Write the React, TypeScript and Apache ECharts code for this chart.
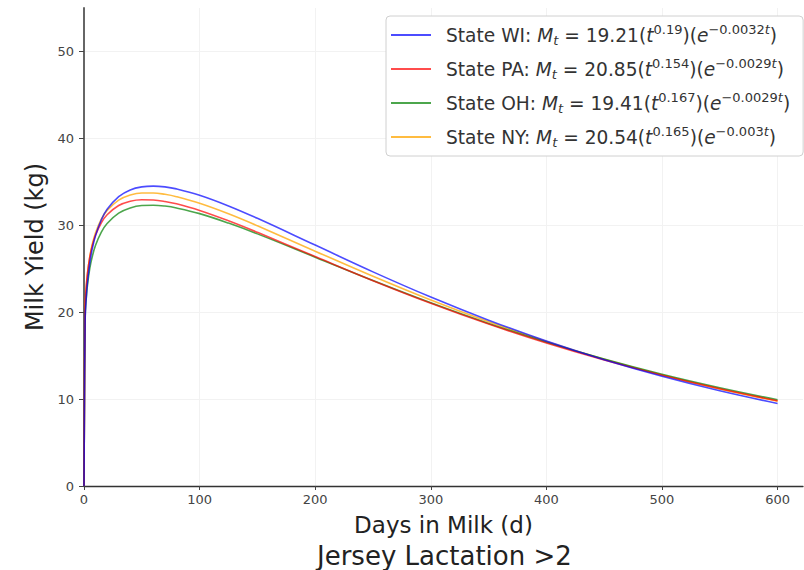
import React, { useEffect, useRef } from "react";
import * as echarts from "echarts";

const days = [0, 1, 2, 3, 5, 7, 10, 15, 20, 30, 40, 50, 60, 70, 80, 100, 125, 150, 200, 250, 300, 350, 400, 450, 500, 550, 600];
const wiValues = [0, 19.15, 21.77, 23.44, 25.67, 27.19, 28.81, 30.63, 31.84, 33.30, 34.07, 34.42, 34.51, 34.42, 34.19, 33.46, 32.23, 30.80, 27.72, 24.64, 21.74, 19.08, 16.67, 14.53, 12.63, 10.96, 9.50];
const paValues = [0, 20.79, 23.06, 24.48, 26.33, 27.57, 28.88, 30.29, 31.21, 32.27, 32.77, 32.94, 32.91, 32.74, 32.47, 31.71, 30.52, 29.19, 26.40, 23.63, 21.03, 18.63, 16.45, 14.49, 12.74, 11.18, 9.80];
const ohValues = [0, 19.36, 21.67, 23.12, 25.03, 26.32, 27.70, 29.21, 30.21, 31.40, 32.00, 32.27, 32.31, 32.21, 31.99, 31.34, 30.25, 29.01, 26.33, 23.64, 21.08, 18.71, 16.55, 14.60, 12.85, 11.30, 9.92];
const nyValues = [0, 20.48, 22.89, 24.40, 26.39, 27.73, 29.15, 30.70, 31.71, 32.90, 33.49, 33.72, 33.72, 33.56, 33.29, 32.53, 31.32, 29.94, 27.02, 24.13, 21.40, 18.90, 16.63, 14.59, 12.78, 11.17, 9.76];

const seriesNames = ["State WI", "State PA", "State OH", "State NY"];
const seriesColors = ["rgba(0,0,255,0.7)", "rgba(255,0,0,0.7)", "rgba(0,128,0,0.7)", "rgba(255,165,0,0.75)"];
const coefA = ["19.21", "20.85", "19.41", "20.54"];
const coefB = ["0.19", "0.154", "0.167", "0.165"];
const coefC = ["−0.0032", "−0.0029", "−0.0029", "−0.003"];

const xTicks = [0, 100, 200, 300, 400, 500, 600];
const yTicks = [0, 10, 20, 30, 40, 50];

const FONT = "DejaVu Sans";
const LF = 18.6;

export default function App() {
  const ref = useRef<HTMLDivElement>(null);
  useEffect(() => {
    if (!ref.current) return;
    const chart = echarts.init(ref.current, null, { renderer: "svg" });
    const allValues = [wiValues, paValues, ohValues, nyValues];
    const legendText: Record<string, string> = {};
    seriesNames.forEach((n, i) => {
      legendText[n] =
        `{sp| }{n|${n}: }{i|M}{sub|t}{n| = ${coefA[i]}(}{i|t}{sup|${coefB[i]}}{n|)(}{i|e}{sup|${coefC[i]}}{supi|t}{n|)}`;
    });
    chart.setOption({
      animation: false,
      backgroundColor: "#ffffff",
      textStyle: { fontFamily: FONT },
      title: {
        text: "Jersey Lactation >2",
        left: 317,
        top: 543,
        padding: 0,
        textStyle: { fontFamily: FONT, fontSize: 26, fontWeight: "normal", color: "#222" },
      },
      grid: { left: 84, right: 1, top: 8, bottom: 84 },
      legend: {
        orient: "vertical",
        left: 386,
        top: 16,
        padding: [7, 13, 7, 5],
        itemGap: 10,
        itemWidth: 40,
        itemHeight: 2,
        icon: "rect",
        backgroundColor: "#ffffff",
        borderColor: "#d0d0d0",
        borderWidth: 1,
        borderRadius: 4,
        data: seriesNames,
        formatter: (name: string) => legendText[name],
        textStyle: {
          fontFamily: FONT,
          fontSize: LF,
          color: "#333",
          rich: {
            sp: { width: 10, fontSize: LF, lineHeight: 24 },
            n: { fontFamily: FONT, fontSize: LF, lineHeight: 24, color: "#333" },
            i: { fontFamily: FONT, fontSize: LF, lineHeight: 24, fontStyle: "italic", color: "#333" },
            sub: { fontFamily: FONT, fontSize: 13, lineHeight: 12, fontStyle: "italic", verticalAlign: "bottom", color: "#333" },
            sup: { fontFamily: FONT, fontSize: 13, lineHeight: 12, verticalAlign: "top", color: "#333" },
            supi: { fontFamily: FONT, fontSize: 13, lineHeight: 12, fontStyle: "italic", verticalAlign: "top", color: "#333" },
          },
        },
      },
      xAxis: {
        type: "value",
        min: 0,
        max: 622,
        interval: 100,
        name: "Days in Milk (d)",
        nameLocation: "middle",
        nameGap: 27,
        nameTextStyle: { fontFamily: FONT, fontSize: 23, color: "#222" },
        axisLine: { lineStyle: { color: "#333", width: 1.3 } },
        axisTick: { show: true, length: 4, lineStyle: { color: "#444" }, customValues: xTicks },
        axisLabel: { fontFamily: FONT, fontSize: 13, color: "#444", margin: 7, customValues: xTicks },
        splitLine: { show: true, lineStyle: { color: "#f2f2f2", width: 1 } },
      },
      yAxis: {
        type: "value",
        min: 0,
        max: 55,
        interval: 10,
        name: "Milk Yield (kg)",
        nameLocation: "middle",
        nameRotate: 90,
        nameGap: 35,
        nameTextStyle: { fontFamily: FONT, fontSize: 24, color: "#222" },
        axisLine: { show: true, lineStyle: { color: "#666", width: 2 } },
        axisTick: { show: true, length: 5, lineStyle: { color: "#444" }, customValues: yTicks },
        axisLabel: { fontFamily: FONT, fontSize: 13, color: "#444", margin: 10, customValues: yTicks },
        splitLine: { show: true, lineStyle: { color: "#f2f2f2", width: 1 } },
      },
      series: seriesNames.map((n, i) => ({
        name: n,
        type: "line",
        data: days.map((d, k) => [d, allValues[i][k]]),
        symbol: "none",
        showSymbol: false,
        smooth: 0.4,
        color: seriesColors[i],
        lineStyle: { color: seriesColors[i], width: 1.6 },
        itemStyle: { color: seriesColors[i] },
        z: 2 + (3 - i),
      })),
    });
    return () => chart.dispose();
  }, []);
  return <div ref={ref} style={{ width: 804, height: 570, position: "fixed", left: 0, top: 0 }} />;
}
